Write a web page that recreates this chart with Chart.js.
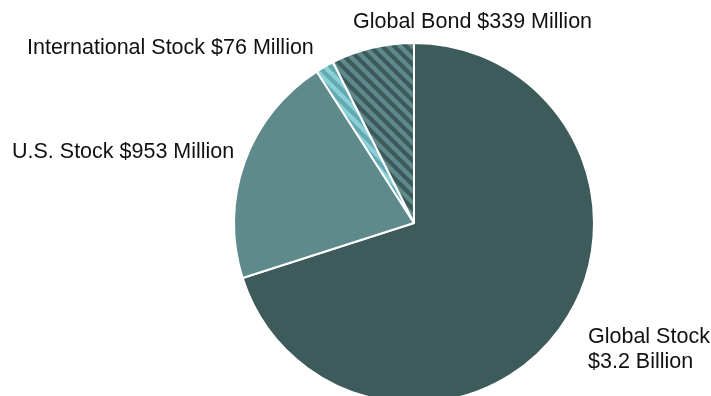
<!DOCTYPE html>
<html>
<head>
<meta charset="utf-8">
<script src="https://cdn.jsdelivr.net/npm/chart.js@4"></script>
<style>
  html, body { margin: 0; padding: 0; background: #fff; overflow: hidden; }
  #wrap { width: 711px; height: 396px; overflow: hidden; }
</style>
</head>
<body>
<div id="wrap"><canvas id="pie" width="711" height="420"></canvas></div>
<script>
// asset totals, in millions of dollars
const categories = ['Global Stock', 'U.S. Stock', 'International Stock', 'Global Bond'];
const amounts = [3200, 953, 76, 339];
const amountLabels = [['Global Stock', '$3.2 Billion'], ['U.S. Stock $953 Million'], ['International Stock $76 Million'], ['Global Bond $339 Million']];

// where each label sits on the page (left edge, first line middle)
const labelSpots = [[588, 337], [12, 152], [27, 48], [353, 22]];

function stripes(base, line) {
    const s = 12;
    const tile = document.createElement('canvas');
    tile.width = s;
    tile.height = s;
    const c = tile.getContext('2d');
    c.fillStyle = base;
    c.fillRect(0, 0, s, s);
    c.strokeStyle = line;
    c.lineWidth = 4.2;
    for (let off = -s; off <= s; off += s) {
        c.beginPath();
        c.moveTo(off - 1, -1);
        c.lineTo(off + s + 1, s + 1);
        c.stroke();
    }
    return document.getElementById('pie').getContext('2d').createPattern(tile, 'repeat');
}

const fills = [
    '#3e5b5c',
    '#5e8a8b',
    stripes('#8bd0d7', '#64a9b0'),
    stripes('#5e8a8b', '#3e5b5c')
];

const sliceLabels = {
    id: 'sliceLabels',
    afterDraw(chart) {
        const ctx = chart.ctx;
        ctx.save();
        ctx.font = '21.5px "Liberation Sans", Arial, sans-serif';
        ctx.fillStyle = '#111';
        ctx.textAlign = 'left';
        ctx.textBaseline = 'middle';
        amountLabels.forEach((lines, i) => {
            const [x, y] = labelSpots[i];
            lines.forEach((t, j) => ctx.fillText(t, x, y + j * 25));
        });
        ctx.restore();
    }
};

new Chart(document.getElementById('pie'), {
    type: 'pie',
    data: {
        labels: categories,
        datasets: [{
            data: amounts,
            backgroundColor: fills,
            borderColor: '#ffffff',
            borderWidth: 2
        }]
    },
    options: {
        responsive: false,
        animation: false,
        radius: 180,
        layout: { padding: { left: 234, right: 117, top: 43, bottom: 17 } },
        plugins: {
            legend: { display: false },
            tooltip: { enabled: false }
        }
    },
    plugins: [sliceLabels]
});
</script>
</body>
</html>
